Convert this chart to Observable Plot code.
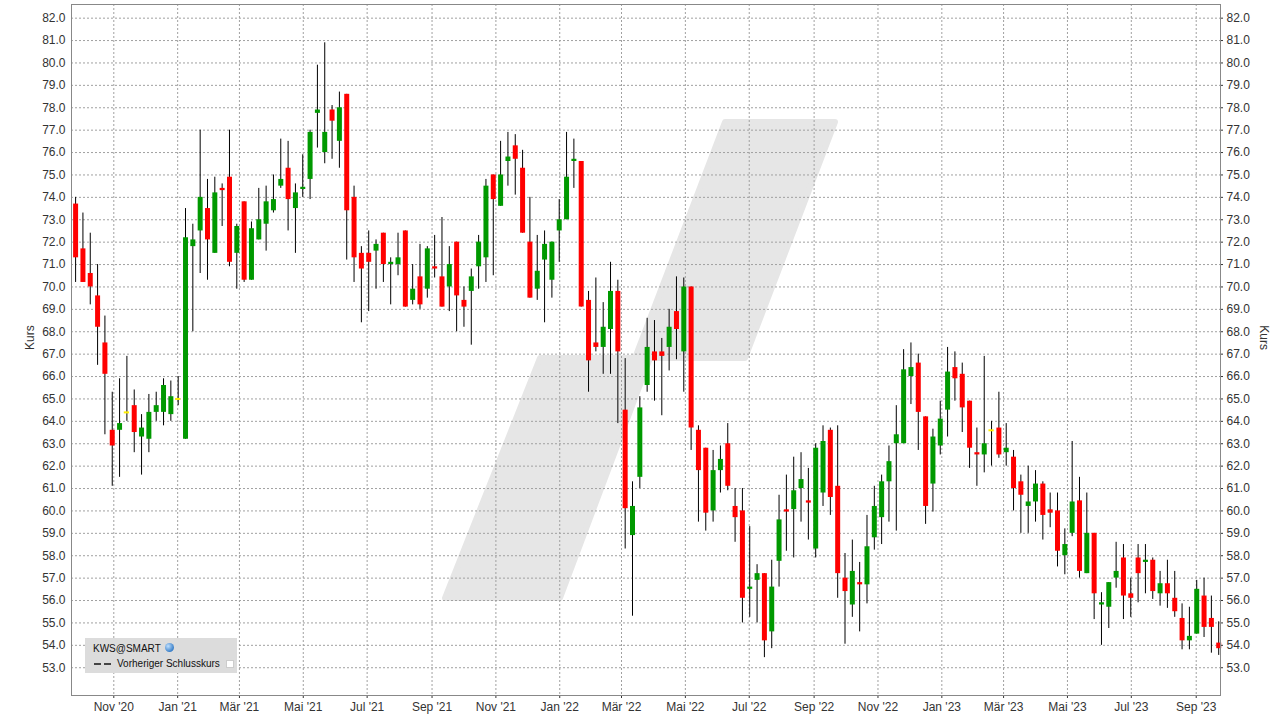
<!DOCTYPE html>
<html><head><meta charset="utf-8">
<script src="https://cdn.jsdelivr.net/npm/d3@7"></script>
<script src="https://cdn.jsdelivr.net/npm/@observablehq/plot@0.6"></script>
<style>
html,body{margin:0;padding:0;background:#fff;}
#wrap{position:relative;width:1280px;height:721px;font-family:"Liberation Sans",Arial,sans-serif;overflow:hidden;}
#legend{position:absolute;left:85px;top:638px;width:152px;height:35px;background:#dcdcdc;font-size:10px;color:#111;}
#legend .l1{position:absolute;left:8px;top:5px;}
#legend .l2{position:absolute;left:32px;top:20px;}
#legend .dash{position:absolute;left:9px;top:25px;width:17px;height:2px;background:repeating-linear-gradient(90deg,#444 0 7px,transparent 7px 10px);}
#legend .globe{position:absolute;left:80px;top:5px;width:9px;height:9px;border-radius:50%;background:radial-gradient(circle at 35% 35%,#bfe0ff,#3a7fc8 70%);}
#legend .box{position:absolute;left:141px;top:22px;width:6px;height:6px;background:#fff;border:1px solid #ccc;}
</style></head><body><div id="wrap"></div>
<script>
const startDate = "2020-09-25T12:00:00Z"; // weekly candles (Friday)
const open  = [73.7,71.7,70.6,69.6,67.5,63.6,63.6,64.4,64.7,63.3,63.2,64.4,64.4,64.3,65.0,63.2,71.8,72.5,73.5,71.5,
  74.4,74.9,71.5,73.8,70.3,72.1,72.8,73.4,74.5,75.3,73.5,74.35,74.8,77.75,76.0,77.9,76.5,78.6,74.0,71.5,
  71.5,71.6,72.4,71.0,71.0,72.5,69.4,70.45,69.9,70.9,70.45,70.0,72.0,69.4,69.8,70.9,71.3,75.0,73.6,75.6,
  76.3,75.3,72.0,69.9,71.2,70.3,72.5,73.0,75.6,75.6,69.4,67.5,67.3,68.1,69.8,64.5,58.9,61.5,65.6,67.1,
  67.1,67.3,68.9,67.1,70.0,63.6,62.8,60.0,61.8,63.0,60.2,60.0,56.5,56.9,57.2,54.6,57.75,60.05,60.06,61.0,
  60.45,58.3,60.8,63.6,61.1,57.0,55.8,56.8,56.7,58.8,59.7,61.3,63.0,63.0,66.0,66.6,64.2,61.2,62.9,64.5,
  66.4,66.1,64.9,62.6,62.5,63.6,63.7,62.6,62.4,61.3,60.2,60.4,61.2,60.05,60.0,58.0,59.0,60.45,57.2,59.0,
  55.8,55.7,57.0,57.9,56.3,57.9,57.7,57.8,56.3,56.75,56.1,55.2,54.2,54.5,56.2,55.2,54.1];
const high  = [74.0,73.3,72.4,71.0,68.7,65.3,65.9,66.9,65.4,64.3,65.2,65.3,65.9,65.8,66.0,73.5,72.8,77.0,74.8,74.9,
  74.6,77.0,72.8,73.8,72.9,74.4,74.5,75.0,76.6,76.5,74.6,75.9,77.0,79.9,80.9,78.1,78.7,78.6,74.5,71.8,
  72.5,72.1,72.4,71.3,72.4,72.5,71.0,71.9,71.8,72.3,73.1,71.8,72.0,70.0,70.8,72.3,74.8,75.0,76.5,76.9,
  76.8,76.1,74.0,72.3,72.5,72.0,73.9,76.9,76.6,75.6,69.8,70.4,69.3,71.1,70.3,66.8,61.3,65.1,68.6,68.5,
  67.7,69.0,70.45,70.4,70.0,63.8,62.8,62.7,62.9,63.9,61.0,61.0,59.3,57.6,57.2,57.8,60.7,61.6,62.4,62.6,
  61.9,63.0,63.8,63.7,63.8,58.1,58.7,57.7,59.8,61.1,61.6,62.9,64.7,67.2,67.5,67.0,64.2,63.65,64.9,67.3,
  67.1,66.6,64.9,63.7,66.9,64.0,65.3,63.9,62.7,61.6,62.0,61.8,61.3,60.8,60.8,59.2,63.1,61.5,60.8,59.0,
  56.35,56.8,58.6,58.5,57.0,58.5,58.5,57.9,57.3,57.8,57.3,55.85,55.7,56.9,57.0,56.2,55.05];
const low   = [70.2,70.2,69.2,66.5,63.4,61.1,61.5,64.0,62.6,61.6,62.6,64.0,63.8,64.0,64.7,63.2,68.0,70.6,70.3,71.5,
  72.7,70.9,69.9,70.2,70.3,72.1,71.6,73.3,74.4,72.5,71.5,74.0,73.9,76.2,75.5,75.7,75.3,71.2,70.2,68.4,
  68.9,69.9,70.2,69.2,70.5,69.1,69.2,69.0,69.5,70.4,69.1,68.9,68.0,68.2,67.4,69.9,70.2,70.5,73.6,74.5,
  74.1,72.4,69.5,69.4,68.4,69.5,71.1,73.0,74.4,69.1,65.3,67.1,66.1,66.1,63.9,58.3,55.3,61.0,65.3,64.9,
  64.25,66.25,66.75,65.3,62.7,59.5,59.1,59.5,60.8,60.9,58.6,55.0,55.25,55.0,53.45,53.85,56.6,58.2,57.9,59.5,
  58.7,57.9,60.2,59.8,56.1,54.05,55.25,54.6,55.85,58.25,58.5,59.5,59.1,63.0,64.75,62.7,59.4,59.95,62.5,63.3,
  64.9,63.5,61.9,61.1,61.7,62.0,62.35,62.0,60.0,59.0,59.0,59.5,58.7,59.25,57.5,57.15,58.85,57.0,57.2,55.15,
  54.0,54.75,56.55,55.15,55.25,55.9,56.3,56.05,55.75,55.65,55.25,53.8,53.8,54.5,54.35,53.65,53.55];
const close = [71.3,70.2,70.0,68.2,66.1,62.9,63.9,64.4,63.5,63.7,64.4,64.7,65.6,65.1,65.0,72.2,72.1,74.0,72.1,74.2,
  74.3,71.1,72.7,70.3,72.6,73.0,73.8,73.9,74.8,73.9,74.2,74.45,76.9,77.9,76.9,77.4,78.0,73.4,71.3,70.8,
  71.1,71.9,71.0,71.1,71.3,69.1,69.9,69.2,71.7,70.8,69.1,71.0,69.6,69.1,70.45,72.0,74.5,73.9,75.0,75.8,
  75.7,72.4,69.5,70.7,71.9,72.0,73.0,74.9,75.7,69.1,66.7,67.3,68.2,69.8,67.1,60.1,60.2,64.6,67.3,66.7,
  66.9,68.2,68.1,70.0,63.7,61.8,59.9,61.8,62.3,61.1,59.7,56.1,56.6,57.2,54.2,56.6,59.6,59.95,60.9,61.4,
  60.35,62.8,63.1,60.6,57.2,56.4,57.3,56.7,58.4,60.2,61.3,62.2,63.4,66.3,66.4,64.4,60.2,63.3,64.1,66.2,
  65.9,64.6,62.8,62.5,63.0,63.6,62.5,62.8,61.0,60.7,60.4,61.2,59.8,59.9,58.2,58.5,60.4,57.3,59.0,56.3,
  55.9,56.8,57.3,56.2,56.1,57.2,57.8,56.4,56.75,56.3,55.5,54.2,54.4,56.5,54.8,54.8,53.85];
const monthNames = ["Jan","Feb","Mär","Apr","Mai","Jun","Jul","Aug","Sep","Okt","Nov","Dez"];
const xTickDates = ["2020-11-01","2021-01-01","2021-03-01","2021-05-01","2021-07-01","2021-09-01","2021-11-01",
  "2022-01-01","2022-03-01","2022-05-01","2022-07-01","2022-09-01","2022-11-01","2023-01-01","2023-03-01",
  "2023-05-01","2023-07-01","2023-09-01"];
const yTicks = [53,54,55,56,57,58,59,60,61,62,63,64,65,66,67,68,69,70,71,72,73,74,75,76,77,78,79,80,81,82];

const rows = open.map((o, i) => ({
  date: d3.utcDay.offset(new Date(startDate), 7 * i),
  open: o, high: high[i], low: low[i], close: close[i]
}));
const bodies = rows.filter(d => d.open !== d.close);
const dojis = rows.filter(d => d.open === d.close);
const xTicks = xTickDates.map(s => new Date(s + "T00:00:00Z"));
const fmt = d => `${monthNames[d.getUTCMonth()]} '${String(d.getUTCFullYear()).slice(2)}`;
const gridStyle = {stroke: "#a0a0a0", strokeOpacity: 1, strokeDasharray: "2,2", strokeWidth: 1};

const chart = Plot.plot({
  width: 1280, height: 721,
  marginLeft: 71, marginRight: 60, marginTop: 4, marginBottom: 26,
  style: {fontFamily: "'Liberation Sans', Arial, sans-serif", fontSize: "12px", color: "#333", background: "#fff"},
  x: {type: "utc", domain: [new Date("2020-09-21T14:00:00Z"), new Date("2023-09-24T05:00:00Z")], axis: null},
  y: {domain: [51.76, 82.61], axis: null},
  marks: [
    Plot.gridX(xTicks, gridStyle),
    Plot.gridY(yTicks, gridStyle),
    Plot.ruleX(rows, {x: "date", y1: "low", y2: "high", stroke: "#000", strokeWidth: 1}),
    Plot.ruleX(bodies, {x: "date", y1: "open", y2: "close", strokeWidth: 5,
      stroke: d => d.close > d.open ? "#009900" : "#ff0000"}),
    Plot.ruleY(dojis, {y: "close", x1: d => d3.utcHour.offset(d.date, -60), x2: d => d3.utcHour.offset(d.date, 60),
      stroke: "#ffee00", strokeWidth: 2}),
    Plot.axisX(xTicks, {anchor: "bottom", tickFormat: fmt, tickSize: 3, tickPadding: 4, label: null, fontSize: 12}),
    Plot.axisY(yTicks, {anchor: "left", tickFormat: d => d.toFixed(1), tickSize: 0, tickPadding: 6, label: null, fontSize: 12}),
    Plot.axisY(yTicks, {anchor: "right", tickFormat: d => d.toFixed(1), tickSize: 2, tickPadding: 4, label: null, fontSize: 12}),
    Plot.text(["Kurs"], {frameAnchor: "left", dx: -41, rotate: -90, text: d => d, fontSize: 12, fill: "#333"}),
    Plot.text(["Kurs"], {frameAnchor: "right", dx: 43, rotate: 90, text: d => d, fontSize: 12, fill: "#333"}),
    Plot.frame({stroke: "#888", strokeWidth: 1})
  ]
});

// decorative watermark behind everything
const ns = "http://www.w3.org/2000/svg";
const wm = document.createElementNS(ns, "path");
wm.setAttribute("d", "M725,122 L835,122 L745,358 L650,358 L560,598 L445,598 L540,358 L635,358 Z");
wm.setAttribute("fill", "#e6e6e6");
wm.setAttribute("stroke", "#e6e6e6");
wm.setAttribute("stroke-width", "6");
wm.setAttribute("stroke-linejoin", "round");
chart.insertBefore(wm, chart.firstChild ? chart.firstChild.nextSibling : null);

const wrap = document.getElementById("wrap");
wrap.appendChild(chart);
const legend = document.createElement("div");
legend.id = "legend";
legend.innerHTML = '<span class="l1">KWS@SMART</span><span class="globe"></span>' +
  '<span class="dash"></span><span class="l2">Vorheriger Schlusskurs</span><span class="box"></span>';
wrap.appendChild(legend);
</script></body></html>
